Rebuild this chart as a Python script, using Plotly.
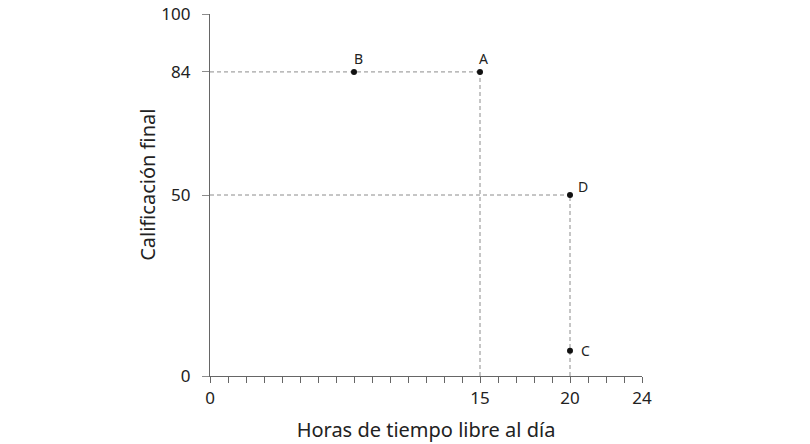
import plotly.graph_objects as go

# points: free hours per day vs final grade
labels = ["A", "B", "C", "D"]
hours = [15, 8, 20, 20]
grades = [84, 84, 7, 50]
# pixel offsets of each point's letter
label_shift = {"A": (3, 13), "B": (4, 13), "C": (15, 0), "D": (13, 9)}

x_ticks = list(range(0, 25))
x_labels = {0: "0", 15: "15", 20: "20", 24: "24"}
y_ticks = [0, 50, 84, 100]

# guide lines (x pairs, y pairs) joining points to the axes
guides = [
    ([0, 15], [84, 84]),
    ([15, 15], [0, 84]),
    ([0, 20], [50, 50]),
    ([20, 20], [0, 50]),
]

fig = go.Figure()
for gx, gy in guides:
    fig.add_trace(
        go.Scatter(
            x=gx, y=gy, mode="lines",
            line=dict(color="#8c8c8c", width=1, dash="4px,3px"),
            hoverinfo="skip", showlegend=False,
        )
    )

fig.add_trace(
    go.Scatter(
        x=hours, y=grades, mode="markers",
        marker=dict(color="#111", size=6),
        showlegend=False, cliponaxis=False,
    )
)

for lab, hx, gy in zip(labels, hours, grades):
    dx, dy = label_shift[lab]
    fig.add_annotation(
        x=hx, y=gy, text=lab, showarrow=False,
        xshift=dx, yshift=dy,
        font=dict(family="Noto Sans", size=14, color="#222"),
    )

fig.add_annotation(
    text="Calificación final", textangle=-90, showarrow=False,
    xref="paper", yref="paper", x=0, y=0.528, xshift=-62,
    xanchor="center", yanchor="middle",
    font=dict(family="Noto Sans", size=20, color="#222"),
)

axis_font = dict(family="Noto Sans", size=17, color="#222")
title_font = dict(family="Noto Sans", size=20, color="#222")
fig.update_layout(
    width=810, height=444,
    margin=dict(l=210, r=168, t=14, b=68),
    plot_bgcolor="white", paper_bgcolor="white",
    font=dict(family="Noto Sans"),
    xaxis=dict(
        range=[0, 24], tickvals=x_ticks,
        ticktext=[x_labels.get(v, "") for v in x_ticks],
        ticks="outside", ticklen=6, tickcolor="#666",
        showline=True, linecolor="#666", linewidth=1.2,
        showgrid=False, zeroline=False, tickfont=axis_font,
        automargin=False, ticklabeloverflow="allow",
        title=dict(text="Horas de tiempo libre al día", font=title_font, standoff=15),
    ),
    yaxis=dict(
        range=[0, 100], tickvals=y_ticks,
        ticks="outside", ticklen=7, tickcolor="#8c8c8c",
        showline=True, linecolor="#666", linewidth=1.2,
        showgrid=False, zeroline=False, tickfont=axis_font,
        automargin=False, ticklabeloverflow="allow", ticklabelstandoff=8,
    ),
)

# drop the default page margin so the figure fills the window
fig.write_html(
    "out.html",
    config={"displayModeBar": False},
    post_script="document.body.style.margin='0';",
)
